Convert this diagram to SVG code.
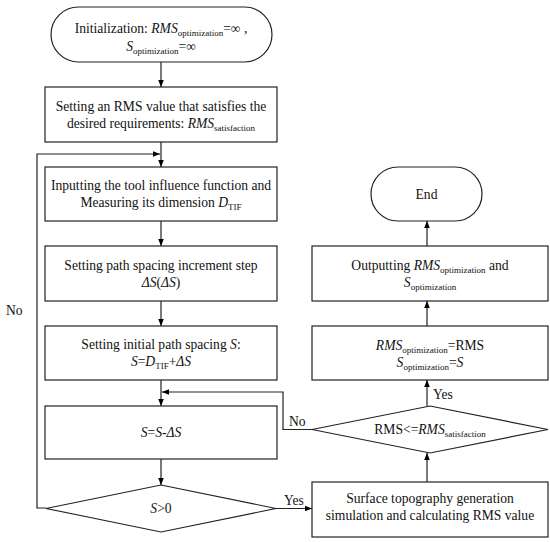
<svg xmlns="http://www.w3.org/2000/svg" width="550" height="542" viewBox="0 0 550 542" font-family="'Liberation Serif', 'Times New Roman', serif">
<defs>
<marker id="ah" markerWidth="8" markerHeight="8" refX="7" refY="4" orient="auto" markerUnits="userSpaceOnUse">
<path d="M0,1.2 L7,4 L0,6.8 z" fill="#000"/>
</marker>
<style>
.s{fill:#fff;stroke:#222;stroke-width:1.2}
.c{fill:none;stroke:#222;stroke-width:1.2}
text{font-family:'Liberation Serif','Times New Roman',serif;font-size:13.6px;fill:#111;text-anchor:middle}
.i{font-style:italic}
.sb{font-size:9px}
.lb{text-anchor:start}
</style>
</defs>
<rect width="550" height="542" fill="#fff"/>
<g id="connectors">
<line class="c" x1="161" y1="62" x2="161" y2="87" marker-end="url(#ah)"/>
<line class="c" x1="161" y1="142" x2="161" y2="167" marker-end="url(#ah)"/>
<polyline class="c" points="46,508 37,508 37,154 160,154" marker-end="url(#ah)"/>
<line class="c" x1="161" y1="221" x2="161" y2="246" marker-end="url(#ah)"/>
<line class="c" x1="161" y1="301" x2="161" y2="326" marker-end="url(#ah)"/>
<line class="c" x1="161" y1="380" x2="161" y2="406" marker-end="url(#ah)"/>
<polyline class="c" points="312,429.5 283,429.5 283,392 162,392" marker-end="url(#ah)"/>
<line class="c" x1="161" y1="459" x2="161" y2="485" marker-end="url(#ah)"/>
<line class="c" x1="276" y1="508.5" x2="312" y2="508.5" marker-end="url(#ah)"/>
<line class="c" x1="427" y1="482" x2="427" y2="453" marker-end="url(#ah)"/>
<line class="c" x1="427" y1="406" x2="427" y2="380" marker-end="url(#ah)"/>
<line class="c" x1="427" y1="326" x2="427" y2="301" marker-end="url(#ah)"/>
<line class="c" x1="427" y1="246" x2="427" y2="221" marker-end="url(#ah)"/>
<text class="lb" x="6" y="315">No</text>
<text class="lb" x="284" y="505">Yes</text>
<text class="lb" x="289" y="426">No</text>
<text class="lb" x="433" y="399">Yes</text>
</g>
<g id="start">
<rect class="s" x="51" y="7" width="221" height="55" rx="27.5"/>
<text x="161" y="33">Initialization: <tspan class="i">RMS</tspan><tspan class="sb" dy="3">optimization</tspan><tspan dy="-3">=∞ ,</tspan></text>
<text x="161" y="51"><tspan class="i">S</tspan><tspan class="sb" dy="3">optimization</tspan><tspan dy="-3">=∞</tspan></text>
</g>
<g id="rms-setting">
<rect class="s" x="45" y="87" width="232" height="55"/>
<text x="161" y="111">Setting an RMS value that satisfies the</text>
<text x="161" y="128">desired requirements: <tspan class="i">RMS</tspan><tspan class="sb" dy="3">satisfaction</tspan></text>
</g>
<g id="tif">
<rect class="s" x="45" y="167" width="232" height="54"/>
<text x="161" y="190">Inputting the tool influence function and</text>
<text x="161" y="207">Measuring its dimension <tspan class="i">D</tspan><tspan class="sb" dy="3">TIF</tspan></text>
</g>
<g id="step">
<rect class="s" x="45" y="246" width="232" height="55"/>
<text x="161" y="270">Setting path spacing increment step</text>
<text x="161" y="287" class="i">ΔS<tspan font-style="normal">(</tspan>ΔS<tspan font-style="normal">)</tspan></text>
</g>
<g id="initial">
<rect class="s" x="45" y="326" width="232" height="54"/>
<text x="161" y="349">Setting initial path spacing <tspan class="i">S</tspan>:</text>
<text x="161" y="366"><tspan class="i">S</tspan>=<tspan class="i">D</tspan><tspan class="sb" dy="3">TIF</tspan><tspan dy="-3">+</tspan><tspan class="i">ΔS</tspan></text>
</g>
<g id="decrement">
<rect class="s" x="45" y="406" width="232" height="53"/>
<text x="161" y="437"><tspan class="i">S</tspan>=<tspan class="i">S</tspan>-<tspan class="i">ΔS</tspan></text>
</g>
<g id="s-positive">
<polygon class="s" points="161,485 276,508.5 161,532 46,508.5"/>
<text x="161" y="513"><tspan class="i">S</tspan>&gt;0</text>
</g>
<g id="simulation">
<rect class="s" x="312" y="482" width="236" height="55"/>
<text x="430" y="503">Surface topography generation</text>
<text x="430" y="520">simulation and calculating RMS value</text>
</g>
<g id="rms-check">
<polygon class="s" points="430,406 548,429.5 430,453 312,429.5"/>
<text x="430" y="434">RMS&lt;=<tspan class="i">RMS</tspan><tspan class="sb" dy="3">satisfaction</tspan></text>
</g>
<g id="assign">
<rect class="s" x="312" y="326" width="236" height="54"/>
<text x="430" y="350"><tspan class="i">RMS</tspan><tspan class="sb" dy="3">optimization</tspan><tspan dy="-3">=RMS</tspan></text>
<text x="430" y="367"><tspan class="i">S</tspan><tspan class="sb" dy="3">optimization</tspan><tspan dy="-3">=</tspan><tspan class="i">S</tspan></text>
</g>
<g id="output">
<rect class="s" x="312" y="246" width="236" height="55"/>
<text x="430" y="270">Outputting <tspan class="i">RMS</tspan><tspan class="sb" dy="3">optimization</tspan><tspan dy="-3"> and</tspan></text>
<text x="430" y="287"><tspan class="i">S</tspan><tspan class="sb" dy="3">optimization</tspan></text>
</g>
<g id="end">
<rect class="s" x="371" y="167" width="111" height="54" rx="27"/>
<text x="426.5" y="199">End</text>
</g>
</svg>
